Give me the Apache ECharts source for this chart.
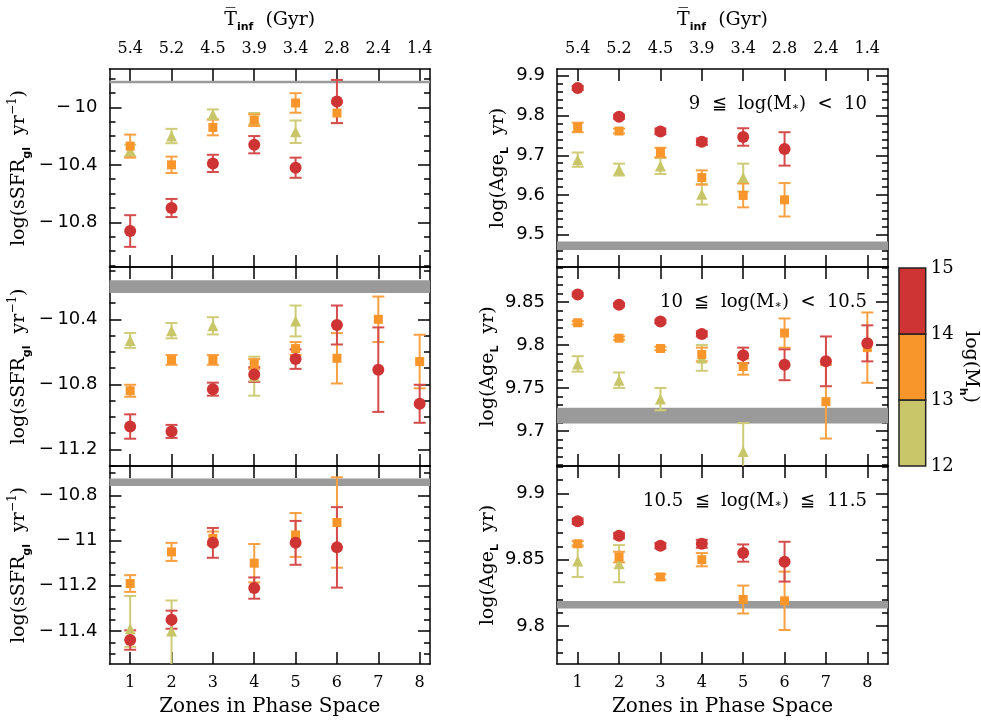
<!DOCTYPE html>
<html>
<head>
<meta charset="utf-8">
<script src="https://cdn.jsdelivr.net/npm/echarts@6/dist/echarts.min.js"></script>
<style>
  html, body { margin: 0; padding: 0; background: #fff; }
  #chart { width: 981px; height: 725px; }
</style>
</head>
<body>
<div id="chart"></div>
<script>
// zones and top axis labels (mean infall time)
const zones = [1, 2, 3, 4, 5, 6, 7, 8];
const tInfLabels = ['5.4', '5.2', '4.5', '3.9', '3.4', '2.8', '2.4', '1.4'];

// halo mass bins for the colour bar
const massEdges = [12, 13, 14, 15];

// sSFR, 9 <= log M* < 10  (errors: symmetric, or [lower, upper])
const sfrLowRed = [-10.86, -10.70, -10.39, -10.26, -10.42, -9.96, null, null];
const sfrLowRedErr = [0.11, 0.063, 0.06, 0.06, 0.07, 0.15, null, null];
const sfrLowOrange = [-10.27, -10.40, -10.14, -10.09, -9.97, -10.04, null, null];
const sfrLowOrangeErr = [0.08, 0.057, 0.055, 0.04, 0.068, 0.07, null, null];
const sfrLowGreen = [-10.30, -10.20, -10.05, -10.08, -10.17, null, null, null];
const sfrLowGreenErr = [0.04, 0.05, 0.035, 0.04, 0.078, null, null, null];

// sSFR, 10 <= log M* < 10.5
const sfrMidRed = [-11.06, -11.09, -10.83, -10.74, -10.645, -10.435, -10.71, -10.92];
const sfrMidRedErr = [0.075, 0.04, 0.04, 0.045, 0.06, 0.12, 0.26, 0.117];
const sfrMidOrange = [-10.84, -10.65, -10.65, -10.675, -10.58, -10.64, -10.40, -10.66];
const sfrMidOrangeErr = [0.037, 0.03, 0.03, 0.03, 0.04, 0.155, 0.14, 0.165];
const sfrMidGreen = [-10.53, -10.47, -10.44, -10.75, -10.41, null, null, null];
const sfrMidGreenErr = [0.046, 0.047, 0.053, 0.12, 0.095, null, null, null];

// sSFR, 10.5 <= log M* <= 11.5
const sfrHighRed = [-11.44, -11.35, -11.01, -11.21, -11.01, -11.03, null, null];
const sfrHighRedErr = [0.043, 0.04, 0.066, 0.047, 0.097, 0.178, null, null];
const sfrHighOrange = [-11.19, -11.05, -10.99, -11.10, -10.975, -10.92, null, null];
const sfrHighOrangeErr = [0.037, 0.04, 0.03, 0.085, 0.097, 0.2, null, null];
const sfrHighGreen = [-11.39, -11.40, null, null, null, null, null, null];
const sfrHighGreenErr = [[0.08, 0.145], [0.2, 0.135], null, null, null, null, null, null];

// light-weighted age, 9 <= log M* < 10
const ageLowRed = [9.869, 9.797, 9.760, 9.734, 9.746, 9.716, null, null];
const ageLowRedErr = [0.005, 0.005, 0.007, 0.008, 0.022, 0.042, null, null];
const ageLowOrange = [9.770, 9.761, 9.707, 9.644, 9.599, 9.588, null, null];
const ageLowOrangeErr = [0.012, 0.006, 0.012, 0.018, 0.03, 0.042, null, null];
const ageLowGreen = [9.689, 9.664, 9.673, 9.602, 9.644, null, null, null];
const ageLowGreenErr = [0.018, 0.015, 0.02, 0.026, 0.035, null, null, null];

// light-weighted age, 10 <= log M* < 10.5
const ageMidRed = [9.859, 9.847, 9.8275, 9.813, 9.788, 9.777, 9.781, 9.802];
const ageMidRedErr = [0.002, 0.002, 0.002, 0.003, 0.009, 0.018, 0.029, 0.021];
const ageMidOrange = [9.826, 9.808, 9.796, 9.789, 9.775, 9.814, 9.734, 9.797];
const ageMidOrangeErr = [0.002, 0.002, 0.002, 0.008, 0.0095, 0.017, 0.043, 0.041];
const ageMidGreen = [9.778, 9.759, 9.737, 9.785, 9.676, null, null, null];
const ageMidGreenErr = [0.009, 0.009, 0.013, 0.015, 0.033, null, null, null];

// light-weighted age, 10.5 <= log M* <= 11.5
const ageHighRed = [9.879, 9.868, 9.8605, 9.862, 9.855, 9.8485, null, null];
const ageHighRedErr = [0.002, 0.002, 0.002, 0.003, 0.0065, 0.015, null, null];
const ageHighOrange = [9.862, 9.852, 9.837, 9.850, 9.820, 9.819, null, null];
const ageHighOrangeErr = [0.002, 0.004, 0.002, 0.005, 0.0105, 0.022, null, null];
const ageHighGreen = [9.849, 9.847, null, null, null, null, null, null];
const ageHighGreenErr = [0.012, 0.014, null, null, null, null, null, null];

// field (grey band) levels, [low, high]
const sfrFieldBands = [[-9.833, -9.815], [-10.238, -10.16], [-10.758, -10.725]];
const ageFieldBands = [[9.462, 9.483], [9.7086, 9.727], [9.8133, 9.8188]];

const binLabels = ['9  \u2266  log(M{sub|\u2217})  <  10',
                   '10  \u2266  log(M{sub|\u2217})  <  10.5',
                   '10.5  \u2266  log(M{sub|\u2217})  \u2266  11.5'];

const RED = '#cf3434', ORANGE = '#f8952b', GREEN = '#c8c668';
const ERR_RED = '#d44c4c', ERR_ORANGE = '#f9a043', ERR_GREEN = '#cfcc78';
const SERIF = 'DejaVu Serif';
const SANS = 'DejaVu Sans';

function steps(a, b, s) {
  const out = [];
  for (let v = a; v <= b + s / 1000; v += s) out.push(+v.toFixed(4));
  return out;
}

// per-panel axis layout
const layout = [
  { col: 0, row: 0, min: -11.11, max: -9.734, major: [-10.8, -10.4, -10], minor: steps(-11.1, -9.8, 0.1),
    groups: [[sfrLowGreen, sfrLowGreenErr], [sfrLowOrange, sfrLowOrangeErr], [sfrLowRed, sfrLowRedErr]], band: sfrFieldBands[0] },
  { col: 0, row: 1, min: -11.303, max: -10.078, major: [-11.2, -10.8, -10.4], minor: steps(-11.3, -10.1, 0.1),
    groups: [[sfrMidGreen, sfrMidGreenErr], [sfrMidOrange, sfrMidOrangeErr], [sfrMidRed, sfrMidRedErr]], band: sfrFieldBands[1] },
  { col: 0, row: 2, min: -11.546, max: -10.67, major: [-11.4, -11.2, -11, -10.8], minor: steps(-11.5, -10.7, 0.05),
    groups: [[sfrHighGreen, sfrHighGreenErr], [sfrHighOrange, sfrHighOrangeErr], [sfrHighRed, sfrHighRedErr]], band: sfrFieldBands[2] },
  { col: 1, row: 0, min: 9.419, max: 9.917, major: [9.5, 9.6, 9.7, 9.8, 9.9], minor: steps(9.42, 9.9, 0.02),
    groups: [[ageLowGreen, ageLowGreenErr], [ageLowOrange, ageLowOrangeErr], [ageLowRed, ageLowRedErr]], band: ageFieldBands[0] },
  { col: 1, row: 1, min: 9.659, max: 9.891, major: [9.7, 9.75, 9.8, 9.85], minor: steps(9.66, 9.89, 0.01),
    groups: [[ageMidGreen, ageMidGreenErr], [ageMidOrange, ageMidOrangeErr], [ageMidRed, ageMidRedErr]], band: ageFieldBands[1] },
  { col: 1, row: 2, min: 9.7714, max: 9.9206, major: [9.8, 9.85, 9.9], minor: steps(9.78, 9.92, 0.01),
    groups: [[ageHighGreen, ageHighGreenErr], [ageHighOrange, ageHighOrangeErr], [ageHighRed, ageHighRedErr]], band: ageFieldBands[2] }
];

const colLeft = [109.5, 557], colWidth = [320.5, 331], colXMax = [8.25, 8.5];
const rowTop = [69, 267, 466], rowHeight = [198, 199, 198];

const markerStyle = [
  { color: GREEN, err: ERR_GREEN, symbol: 'triangle', size: 11 },
  { color: ORANGE, err: ERR_ORANGE, symbol: 'rect', size: 9 },
  { color: RED, err: ERR_RED, symbol: 'circle', size: 12 }
];

function points(vals, errs) {
  const out = [];
  zones.forEach((z, i) => {
    if (vals[i] == null) return;
    const e = errs[i];
    const lo = Array.isArray(e) ? e[0] : e;
    const hi = Array.isArray(e) ? e[1] : e;
    out.push([z, vals[i], vals[i] - lo, vals[i] + hi]);
  });
  return out;
}

function errRender(color) {
  return function (params, api) {
    const x = api.value(0);
    const top = api.coord([x, api.value(3)]);
    const bot = api.coord([x, api.value(2)]);
    const w = 6;
    const style = { stroke: color, lineWidth: 2 };
    return {
      type: 'group',
      children: [
        { type: 'line', shape: { x1: top[0], y1: top[1], x2: bot[0], y2: bot[1] }, style: style },
        { type: 'line', shape: { x1: top[0] - w, y1: top[1], x2: top[0] + w, y2: top[1] }, style: style },
        { type: 'line', shape: { x1: bot[0] - w, y1: bot[1], x2: bot[0] + w, y2: bot[1] }, style: style }
      ]
    };
  };
}

function bandRender(params, api) {
  const cs = params.coordSys;
  const lo = api.coord([1, api.value(1)]);
  const hi = api.coord([1, api.value(2)]);
  return {
    type: 'rect',
    shape: { x: cs.x, y: hi[1], width: cs.width, height: lo[1] - hi[1] },
    style: { fill: '#9a9a9a' }
  };
}

function fmt(v) {
  const s = String(+Math.abs(v).toFixed(2));
  return (v < 0 ? '\u2212\u2009' : '') + s;
}

const axisLine = { show: true, lineStyle: { color: '#000', width: 1.5 } };
const nameRich = {
  t: { fontFamily: SERIF, fontSize: 19, color: '#000', lineHeight: 26 },
  sub: { fontFamily: SANS, fontSize: 11, fontWeight: 'bold', color: '#000', verticalAlign: 'bottom', lineHeight: 15 },
  sup: { fontFamily: SERIF, fontSize: 12, color: '#000', verticalAlign: 'top', lineHeight: 15 }
};

const grids = [], xAxes = [], yAxes = [], series = [];

layout.forEach((p, g) => {
  grids.push({ left: colLeft[p.col], top: rowTop[p.row], width: colWidth[p.col], height: rowHeight[p.row] });

  // bottom and top x axes
  xAxes.push({
    type: 'value', gridIndex: g, position: 'bottom', min: 0.5, max: colXMax[p.col],
    axisLine: axisLine, splitLine: { show: false },
    axisTick: { show: true, inside: true, length: 12, customValues: zones, lineStyle: { color: '#000', width: 1.5 } },
    axisLabel: { show: p.row === 2, customValues: zones, margin: 11, color: '#000', fontFamily: SERIF, fontSize: 16 },
    name: p.row === 2 ? 'Zones in Phase Space' : '', nameLocation: 'middle', nameGap: 33,
    nameTextStyle: { color: '#000', fontFamily: SERIF, fontSize: 20 }
  });
  xAxes.push({
    type: 'value', gridIndex: g, position: 'top', min: 0.5, max: colXMax[p.col],
    axisLine: axisLine, splitLine: { show: false },
    axisTick: { show: true, inside: true, length: 12, customValues: zones, lineStyle: { color: '#000', width: 1.5 } },
    axisLabel: {
      show: p.row === 0, customValues: zones, margin: 12, color: '#000', fontFamily: SERIF, fontSize: 16,
      formatter: v => tInfLabels[Math.round(v) - 1]
    },
    name: p.row === 0 ? '{t|T\u0305}{sub|inf}{t|  (Gyr)}' : '', nameLocation: 'middle', nameGap: 36,
    nameTextStyle: { rich: nameRich }
  });

  // y axes: left major, left minor, right major, right minor
  const yName = p.col === 0
    ? '{t|log(sSFR}{sub|gl}{t|  yr}{sup|\u22121}{t|)}'
    : '{t|log(Age}{sub|L}{t|  yr)}';
  const base = { type: 'value', gridIndex: g, min: p.min, max: p.max, splitLine: { show: false } };
  yAxes.push(Object.assign({}, base, {
    position: 'left', axisLine: axisLine,
    axisTick: { show: true, inside: true, length: 12, customValues: p.major, lineStyle: { color: '#000', width: 1.5 } },
    axisLabel: { show: true, customValues: p.major, margin: 12, color: '#000', fontFamily: SANS, fontSize: 18, formatter: fmt },
    name: yName, nameLocation: 'middle', nameGap: p.col === 0 ? 77 : 46,
    nameTextStyle: { rich: nameRich }
  }));
  yAxes.push(Object.assign({}, base, {
    position: 'left', axisLine: { show: false },
    axisTick: { show: true, inside: true, length: 6, customValues: p.minor, lineStyle: { color: '#000', width: 1.5 } },
    axisLabel: { show: false }
  }));
  yAxes.push(Object.assign({}, base, {
    position: 'right', axisLine: axisLine,
    axisTick: { show: true, inside: true, length: 12, customValues: p.major, lineStyle: { color: '#000', width: 1.5 } },
    axisLabel: { show: false }
  }));
  yAxes.push(Object.assign({}, base, {
    position: 'right', axisLine: { show: false },
    axisTick: { show: true, inside: true, length: 6, customValues: p.minor, lineStyle: { color: '#000', width: 1.5 } },
    axisLabel: { show: false }
  }));

  const xi = 2 * g, yi = 4 * g;

  series.push({
    type: 'custom', xAxisIndex: xi, yAxisIndex: yi, renderItem: bandRender, clip: true, silent: true,
    encode: { x: 0, y: [1, 2] }, data: [[1, p.band[0], p.band[1]]], z: 1
  });

  p.groups.forEach((grp, k) => {
    series.push({
      type: 'custom', xAxisIndex: xi, yAxisIndex: yi, renderItem: errRender(markerStyle[k].err),
      clip: true, silent: true, encode: { x: 0, y: [2, 3] }, data: points(grp[0], grp[1]), z: 2
    });
  });
  p.groups.forEach((grp, k) => {
    series.push({
      type: 'scatter', xAxisIndex: xi, yAxisIndex: yi, silent: true,
      symbol: markerStyle[k].symbol, symbolSize: markerStyle[k].size,
      itemStyle: { color: markerStyle[k].color, opacity: 1 },
      data: points(grp[0], grp[1]).map(d => [d[0], d[1]]), z: 3 + k
    });
  });
});

// colour bar as its own small grid
const cb = layout.length;
grids.push({ left: 899, top: 268, width: 36, height: 198 });
xAxes.push({ type: 'value', gridIndex: cb, min: 0, max: 1, show: false });
yAxes.push({
  type: 'value', gridIndex: cb, position: 'right', min: massEdges[0], max: massEdges[massEdges.length - 1], interval: 1,
  axisLine: { show: false }, axisTick: { show: false }, splitLine: { show: false },
  axisLabel: { margin: 5, color: '#000', fontFamily: SERIF, fontSize: 18 },
  name: '{t|log(M}{sub|h}{t|)}', nameLocation: 'middle', nameRotate: -90, nameGap: 19,
  nameTextStyle: { rich: nameRich }
});
const binColors = [GREEN, ORANGE, RED];
series.push({
  type: 'custom', xAxisIndex: xAxes.length - 1, yAxisIndex: yAxes.length - 1, silent: true,
  encode: { x: 0, y: [1, 2] },
  data: massEdges.slice(0, -1).map((lo, i) => [0, lo, massEdges[i + 1]]),
  renderItem: function (params, api) {
    const a = api.coord([0, api.value(2)]);
    const b = api.coord([1, api.value(1)]);
    return {
      type: 'rect',
      shape: { x: a[0], y: a[1], width: b[0] - a[0], height: b[1] - a[1] },
      style: { fill: binColors[params.dataIndex], stroke: '#222', lineWidth: 1.5 }
    };
  }
});

const annotations = binLabels.map((txt, r) => ({
  type: 'text',
  right: 981 - 867,
  top: rowTop[r] + 26,
  style: {
    text: txt,
    fill: '#000',
    font: '18px "' + SERIF + '"',
    rich: {
      sub: { fontFamily: SERIF, fontSize: 11, fill: '#000', verticalAlign: 'bottom', lineHeight: 13 }
    }
  }
}));

const chart = echarts.init(document.getElementById('chart'));
chart.setOption({
  backgroundColor: '#fff',
  animation: false,
  grid: grids,
  xAxis: xAxes,
  yAxis: yAxes,
  series: series,
  graphic: annotations
});
</script>
</body>
</html>
